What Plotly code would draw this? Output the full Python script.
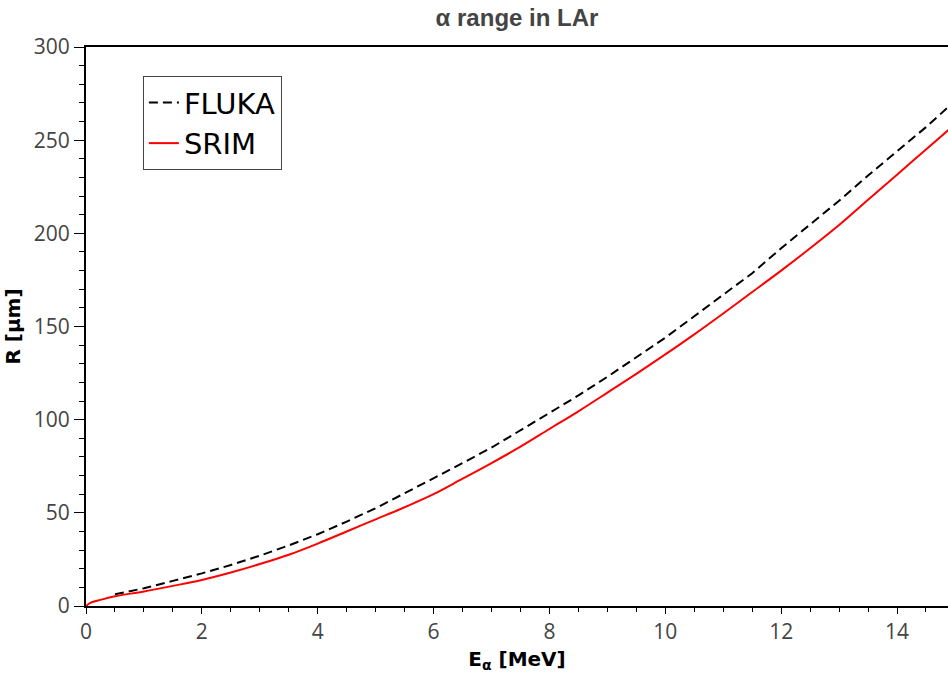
import plotly.graph_objects as go

fluka_E = [0.5, 1, 1.5, 2, 2.5, 3, 3.5, 4, 4.5, 5, 5.5, 6, 6.5, 7, 7.5, 8, 8.5, 9,
           9.5, 10, 10.5, 11, 11.5, 12, 12.5, 13, 13.5, 14, 14.5, 15]
fluka_R = [6.3, 9.5, 13.5, 17.5, 22, 27, 32.5, 38.5, 45.3, 52.5, 60.5, 68.5, 76.7, 85,
           94.5, 103.6, 113, 123, 133.5, 144, 155.5, 167, 178.6, 192, 204.5, 217.5,
           231, 244, 257, 271]

srim_E = [0, 0.05, 0.1, 0.25, 0.5, 1, 1.5, 2, 2.5, 3, 3.5, 4, 4.5, 5, 5.5, 6, 6.5, 7,
          7.5, 8, 8.5, 9, 9.5, 10, 10.5, 11, 11.5, 12, 12.5, 13, 13.5, 14, 14.5, 15]
srim_R = [0, 1.2, 2.0, 3.3, 5.2, 7.8, 10.8, 14, 18, 22.5, 27.5, 33.5, 40, 46.5, 53, 60,
          68.3, 76.7, 85.5, 95, 104.5, 114.5, 124.6, 135, 145.8, 157, 168.5, 180, 192,
          204.5, 218, 231.5, 245, 258.5]

fig = go.Figure()
fig.add_trace(go.Scatter(x=fluka_E, y=fluka_R, mode="lines", name="FLUKA",
                         line=dict(color="black", width=2, dash="9px,5px")))
fig.add_trace(go.Scatter(x=srim_E, y=srim_R, mode="lines", name="SRIM",
                         line=dict(color="red", width=2), line_shape="spline"))

tickfont = dict(family="Open Sans", size=21, color="#444")
titlefont = dict(family="DejaVu Sans", size=20, color="black", weight="bold")

fig.update_layout(
    width=948, height=681,
    margin=dict(l=86, r=0, t=47, b=75),
    paper_bgcolor="white", plot_bgcolor="white",
    title=dict(text="α range in LAr", x=0.5, xref="paper", xanchor="center",
               y=1 - 18 / 681, yref="container", yanchor="middle",
               font=dict(family="Liberation Sans", size=24, color="#444", weight="bold")),
    showlegend=True,
    legend=dict(x=0.066, y=0.948, xanchor="left", yanchor="top",
                bgcolor="white", bordercolor="#444", borderwidth=1,
                font=dict(family="DejaVu Sans", size=29, color="black"),
                tracegroupgap=0, itemwidth=30),
    xaxis=dict(range=[0, 14.88], showgrid=False, zeroline=False,
               showline=True, linecolor="black", linewidth=2, mirror=True,
               ticks="outside", ticklen=6, tickcolor="black", tickwidth=1,
               dtick=2, tick0=0, tickfont=tickfont,
               minor=dict(dtick=0.5, ticks="outside", ticklen=4, tickcolor="black"),
               title=dict(text="E<sub>α</sub> [MeV]", font=titlefont, standoff=8)),
    yaxis=dict(range=[0, 300], showgrid=False, zeroline=False,
               showline=True, linecolor="black", linewidth=2,
               ticks="outside", ticklen=10, tickcolor="black", tickwidth=1,
               dtick=50, tick0=0, tickfont=tickfont,
               minor=dict(dtick=10, ticks="outside", ticklen=5, tickcolor="black"),
               title=dict(text="R [μm]", font=titlefont, standoff=8)),
)

fig.write_html("out.html")
